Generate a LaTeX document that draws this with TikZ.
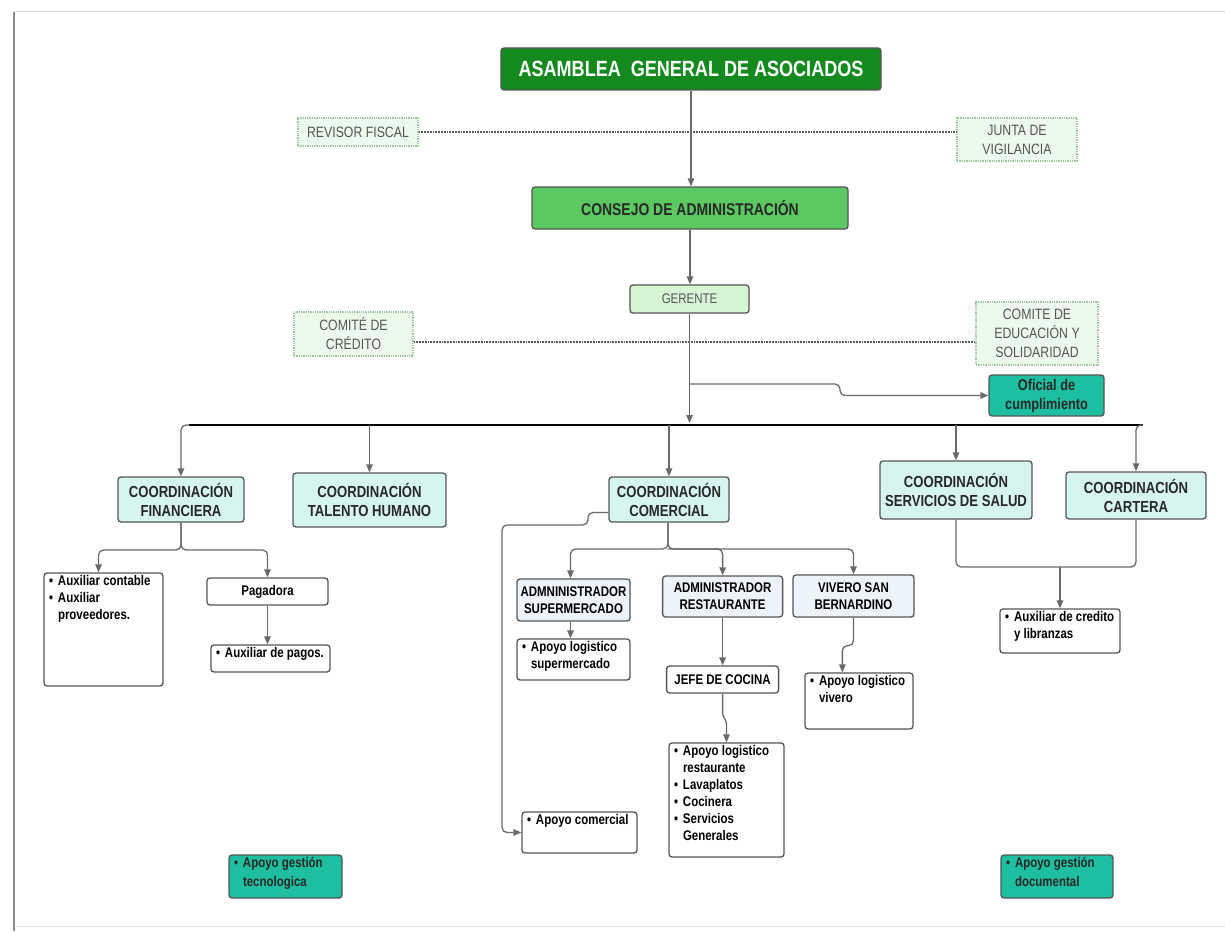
\documentclass[tikz,border=0pt]{standalone}
\usepackage{fontspec}
\setmainfont{Liberation Sans}[FakeStretch=0.82]
\usetikzlibrary{arrows.meta,calc}
\definecolor{asamfill}{RGB}{20,138,30}
\definecolor{consejofill}{RGB}{92,200,98}
\definecolor{gerfill}{RGB}{214,245,212}
\definecolor{dotfill}{RGB}{236,250,236}
\definecolor{dotdraw}{RGB}{160,195,160}
\definecolor{coordfill}{RGB}{214,245,240}
\definecolor{lvfill}{RGB}{237,243,251}
\definecolor{tealfill}{RGB}{30,190,160}
\definecolor{bordc}{RGB}{85,85,85}
\definecolor{connc}{RGB}{105,105,105}
\definecolor{txtc}{RGB}{40,40,40}
\definecolor{dottxt}{RGB}{85,85,85}
\newcommand\lst[3]{\begin{minipage}[c][#2][t]{#1}\vspace{2pt}\leftskip=5pt\rightskip=0pt plus 1fil\relax #3\end{minipage}}
\newcommand\itm[1]{\par\hangindent=9pt\hangafter=1\noindent\makebox[9pt][l]{•}#1}
\tikzset{
  box/.style={draw=bordc, line width=1.3pt, rounded corners=3pt, inner sep=0pt, align=center, text=txtc},
  coordbox/.style={box, fill=coordfill, font=\fontsize{16}{19}\selectfont\bfseries},
  lvbox/.style={box, fill=lvfill, text=black, font=\fontsize{14}{17}\selectfont\bfseries},
  lstbox/.style={box, fill=white, text=black, font=\fontsize{14}{17}\selectfont\bfseries},
  tealbox/.style={box, fill=tealfill, text=txtc, font=\fontsize{14}{19}\selectfont\bfseries},
  dotbox/.style={draw=dotdraw, densely dotted, line width=1.3pt, fill=dotfill, text=dottxt, align=center, inner sep=0pt, font=\fontsize{15}{19}\selectfont},
  dotline/.style={draw=black!65, densely dotted, line width=1.8pt},
  conn/.style={draw=connc, line width=1.3pt, rounded corners=5pt, -{Triangle[length=8pt,width=6.5pt]}},
  plainconn/.style={draw=connc, line width=1.3pt, rounded corners=5pt},
}
\begin{document}
\begin{tikzpicture}[x=1pt,y=-1pt]
\useasboundingbox (0,0) rectangle (1225,931);
\fill[white] (0,0) rectangle (1225,931);
% page frame
\draw[black!12, line width=1pt] (14,12) -- (1225,12);
\draw[black!10, line width=1pt] (14,926) -- (1225,926);
\draw[black!45, line width=2.5pt] (14,12) -- (14,931);

% top
\node[box, fill=asamfill, text=white, minimum width=380pt, minimum height=42pt, font=\fontsize{22}{24}\selectfont\bfseries] (asam) at (691,69) {ASAMBLEA\ \ GENERAL DE ASOCIADOS};
\node[dotbox, minimum width=120pt, minimum height=28pt] (rev) at (358,132) {REVISOR FISCAL};
\node[dotbox, minimum width=120pt, minimum height=43pt] (junta) at (1017,139.5) {JUNTA DE\\VIGILANCIA};
\node[box, fill=consejofill, minimum width=316pt, minimum height=42pt, font=\fontsize{17}{20}\selectfont\bfseries] (consejo) at (690,208) {CONSEJO DE ADMINISTRACIÓN};
\node[box, fill=gerfill, text=dottxt, minimum width=119pt, minimum height=28pt, font=\fontsize{14}{17}\selectfont] (gerente) at (689.5,299) {GERENTE};
\node[dotbox, minimum width=119pt, minimum height=44pt] (credito) at (353.5,334) {COMITÉ DE\\CRÉDITO};
\node[dotbox, minimum width=122pt, minimum height=63pt] (comite) at (1037,333.5) {COMITE DE\\EDUCACIÓN Y\\SOLIDARIDAD};
\node[box, fill=tealfill, minimum width=115pt, minimum height=41pt, font=\fontsize{15.5}{19}\selectfont\bfseries] (oficial) at (1046.5,395.5) {Oficial de\\cumplimiento};

% coordinations
\node[coordbox, minimum width=126pt, minimum height=45pt] (fin) at (181,499.5) {COORDINACIÓN\\FINANCIERA};
\node[coordbox, minimum width=153pt, minimum height=54pt] (tal) at (369.5,500) {COORDINACIÓN\\TALENTO HUMANO};
\node[coordbox, minimum width=120pt, minimum height=45pt] (com) at (669,499.5) {COORDINACIÓN\\COMERCIAL};
\node[coordbox, minimum width=152pt, minimum height=58pt] (sal) at (956,490) {COORDINACIÓN\\SERVICIOS DE SALUD};
\node[coordbox, minimum width=140pt, minimum height=47pt] (car) at (1136,495.5) {COORDINACIÓN\\CARTERA};

% financiera
\node[lstbox] (auxc) at (103.5,629.5) {\lst{119pt}{113pt}{\itm{Auxiliar contable}\itm{Auxiliar proveedores.}}};
\node[lstbox, minimum width=121pt, minimum height=27pt] (pag) at (267.5,591.5) {Pagadora};
\node[lstbox] (auxp) at (270.5,658.5) {\lst{119pt}{27pt}{\itm{Auxiliar de pagos.}}};

% comercial
\node[lvbox, minimum width=113pt, minimum height=42pt] (sup) at (573.5,600) {ADMNINISTRADOR\\SUPERMERCADO};
\node[lvbox, minimum width=120pt, minimum height=41pt] (res) at (722.6,596.5) {ADMINISTRADOR\\RESTAURANTE};
\node[lvbox, minimum width=121pt, minimum height=42pt] (viv) at (853.5,596) {VIVERO SAN\\BERNARDINO};
\node[lstbox] (aps) at (573.5,659.5) {\lst{113pt}{41pt}{\itm{Apoyo logistico supermercado}}};
\node[lstbox, minimum width=112pt, minimum height=27pt] (jefe) at (722.6,679.5) {JEFE DE COCINA};
\node[lstbox] (apv) at (859,701) {\lst{108pt}{56pt}{\itm{Apoyo logistico vivero}}};
\node[lstbox] (apr) at (726.5,800) {\lst{115pt}{114pt}{\itm{Apoyo logistico restaurante}\itm{Lavaplatos}\itm{Cocinera}\itm{Servicios Generales}}};
\node[lstbox] (apc) at (579.5,832.5) {\lst{115pt}{41pt}{\itm{Apoyo comercial}}};

% salud / cartera
\node[lstbox] (auxcr) at (1060,631) {\lst{120pt}{44pt}{\itm{Auxiliar de credito y libranzas}}};

% bottom
\node[tealbox] (tec) at (285.5,876.5) {\lst{113pt}{43pt}{\itm{Apoyo gestión tecnologica}}};
\node[tealbox] (doc) at (1057,876.5) {\lst{112pt}{43pt}{\itm{Apoyo gestión documental}}};

% dotted links
\draw[dotline] (rev.east) -- (junta.west |- rev.east);
\coordinate (credl) at ($(credito.east)+(0,8)$);
\draw[dotline] (credl) -- (comite.west |- credl);

% main chain
\draw[conn] (asam.south) -- (asam.south |- consejo.north);
\draw[conn] (consejo.south) -- (consejo.south |- gerente.north);
\coordinate (barL) at (189,425);
\coordinate (barR) at (1143,425);
\draw[conn] (gerente.south) -- ($(gerente.south |- barL)+(0,-2)$);
\coordinate (ofb) at (gerente.south |- 0,384);
\draw[conn] (ofb) -- (840,384) -- (840,395.5) -- (oficial.west);
\draw[black, line width=2.5pt] (barL) -- (barR);

\draw[conn] (barL) -| (fin.north);
\draw[conn] (tal.north |- barL) -- (tal.north);
\draw[conn] (com.north |- barL) -- (com.north);
\draw[conn] (sal.north |- barL) -- (sal.north);
\draw[conn] (barR) -| (car.north);

% financiera links
\coordinate (fb) at (181,550);
\draw[conn] (fin.south) -- (fb) -| ($(auxc.north)+(-5,0)$);
\draw[conn] (fin.south) -- (fb) -| (pag.north);
\draw[conn] (pag.south) -- (pag.south |- auxp.north);

% comercial links
\coordinate (cb) at (668,549);
\draw[conn] (com.south -| cb) -- (cb) -| ($(sup.north)+(-3,0)$);
\draw[conn] (com.south -| cb) -- (cb) -| (res.north);
\draw[conn] (cb) -| (viv.north);
\draw[conn] ($(sup.south)+(-3,0)$) -- ($(sup.south |- aps.north)+(-3,0)$);
\draw[conn] (res.south) -- (res.south |- jefe.north);
\draw[conn, rounded corners=2pt] (jefe.south) -- ++(0,22) -- ++(3.9,6) -- (apr.north);
\draw[conn] (viv.south) -- ++(0,28) -| ($(apv.north west)+(38,0)$);
\draw[conn] ($(com.west)+(0,13)$) -- (588,512.5) -- (588,525) -- (502,525) |- (apc.west);

% salud/cartera links
\coordinate (sj) at (1060,567);
\draw[plainconn] (sal.south) |- (car.south |- sj) -- (car.south);
\draw[conn] (sj) -- (auxcr.north);
\end{tikzpicture}
\end{document}
